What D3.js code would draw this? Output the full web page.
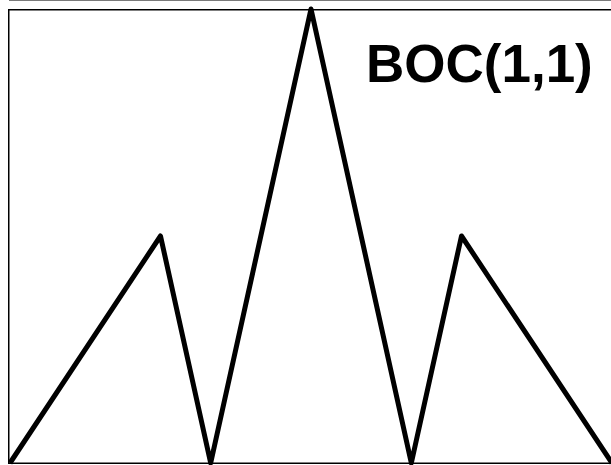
<!DOCTYPE html>
<html>
<head>
<meta charset="utf-8">
<script src="https://cdn.jsdelivr.net/npm/d3@7"></script>
<style>
  html, body { margin: 0; padding: 0; background: #fff; }
  svg { display: block; }
</style>
</head>
<body>
<svg id="chart" width="611" height="465"></svg>
<script>
// Magnitude of the BOC(1,1) autocorrelation against code delay (chips)
const delays = [-1, -0.5, -0.3333, 0, 0.3333, 0.5, 1];
const magnitude = [0, 0.5, 0, 1, 0, 0.5, 0];
const title = "BOC(1,1)";

const svg = d3.select("#chart");
const W = 611, H = 465;

const x = d3.scaleLinear().domain([-1, 1]).range([10, 612]);
const y = d3.scaleLinear().domain([0, 1]).range([463, 9]);

// thin rule along the very top
svg.append("line")
  .attr("x1", 9).attr("x2", W)
  .attr("y1", 0.5).attr("y2", 0.5)
  .attr("stroke", "#7a7a7a").attr("stroke-width", 1);

// plot frame (left, top, bottom; right edge runs off the page)
svg.append("path")
  .attr("d", `M${W + 5},9.75 H8.75 V463.25 H${W + 5}`)
  .attr("fill", "none")
  .attr("stroke", "#000")
  .attr("stroke-width", 1.5);

const pts = delays.map((d, i) => [d, magnitude[i]]);

svg.append("path")
  .datum(pts)
  .attr("d", d3.line().x(d => x(d[0])).y(d => y(d[1])))
  .attr("fill", "none")
  .attr("stroke", "#000")
  .attr("stroke-width", 5)
  .attr("stroke-linejoin", "round")
  .attr("stroke-linecap", "butt");

svg.append("text")
  .attr("x", 366)
  .attr("y", 82)
  .attr("font-family", "'Liberation Sans', Arial, sans-serif")
  .attr("font-weight", "bold")
  .attr("font-size", 53)
  .attr("fill", "#000")
  .text(title);
</script>
</body>
</html>
